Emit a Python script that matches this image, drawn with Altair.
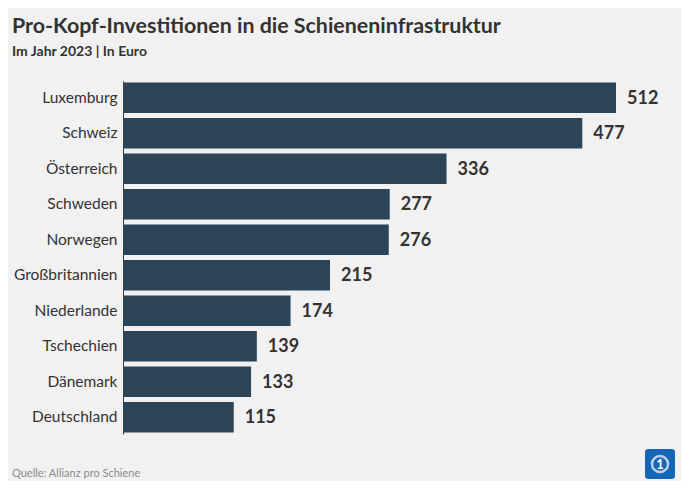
import altair as alt
import pandas as pd

countries = ["Luxemburg", "Schweiz", "Österreich", "Schweden", "Norwegen",
             "Großbritannien", "Niederlande", "Tschechien", "Dänemark", "Deutschland"]
values = [512, 477, 336, 277, 276, 215, 174, 139, 133, 115]

df = pd.DataFrame({"land": countries, "wert": values})

W, H = 493, 353
FONT = "Lato"
DARK = "#333333"
BAR = "#2b4457"

y_enc = alt.Y("land:N", sort=countries, title=None,
              scale=alt.Scale(paddingInner=0.14, paddingOuter=0.04),
              axis=alt.Axis(ticks=False, labelFont=FONT, labelFontSize=15.5,
                            labelColor=DARK, labelPadding=6, domainColor=DARK,
                            domainWidth=1))
x_enc = alt.X("wert:Q", axis=None, scale=alt.Scale(domain=[0, 512], nice=False, zero=True))

bars = alt.Chart(df).mark_bar(color=BAR).encode(x=x_enc, y=y_enc)
labels = alt.Chart(df).mark_text(align="left", baseline="middle", dx=11, dy=1,
                                 font=FONT, fontWeight="bold", fontSize=18,
                                 color=DARK).encode(x=x_enc, y=y_enc, text="wert:Q")

src_df = pd.DataFrame({"t": ["Quelle: Allianz pro Schiene"]})
source = alt.Chart(src_df).mark_text(align="left", baseline="alphabetic", font=FONT,
                                     fontSize=11, color="#8a8a8a").encode(
    x=alt.value(-111), y=alt.value(H + 43), text="t:N")

logo_df = pd.DataFrame({"t": ["1"]})
logo_bg = alt.Chart(logo_df).mark_rect(color="#1565b8", cornerRadius=3).encode(
    x=alt.value(522), x2=alt.value(552), y=alt.value(368), y2=alt.value(398))
logo_ring = alt.Chart(logo_df).mark_point(shape="circle", size=260, filled=False,
                                          stroke="white", strokeWidth=2.5).encode(
    x=alt.value(537), y=alt.value(383))
logo_txt = alt.Chart(logo_df).mark_text(font=FONT, fontWeight="bold", fontSize=13,
                                        color="white", baseline="middle").encode(
    x=alt.value(537), y=alt.value(384), text="t:N")

chart = alt.layer(bars, labels, source, logo_bg, logo_ring, logo_txt).properties(
    width=W, height=H,
    autosize=alt.AutoSizeParams(type="none"),
    padding={"left": 115, "top": 73, "right": 65, "bottom": 47},
    title=alt.TitleParams(
        text="Pro-Kopf-Investitionen in die Schieneninfrastruktur",
        subtitle="Im Jahr 2023 | In Euro",
        anchor="start", frame="group", dx=-111, offset=22,
        font=FONT, fontSize=21.4, fontWeight="bold", color=DARK,
        subtitleFont=FONT, subtitleFontSize=14, subtitleFontWeight="bold",
        subtitleColor=DARK, subtitlePadding=8),
).configure(background="#f1f1f1").configure_view(stroke=None)

chart.save("out.html", embed_options={"renderer": "svg", "actions": False})
